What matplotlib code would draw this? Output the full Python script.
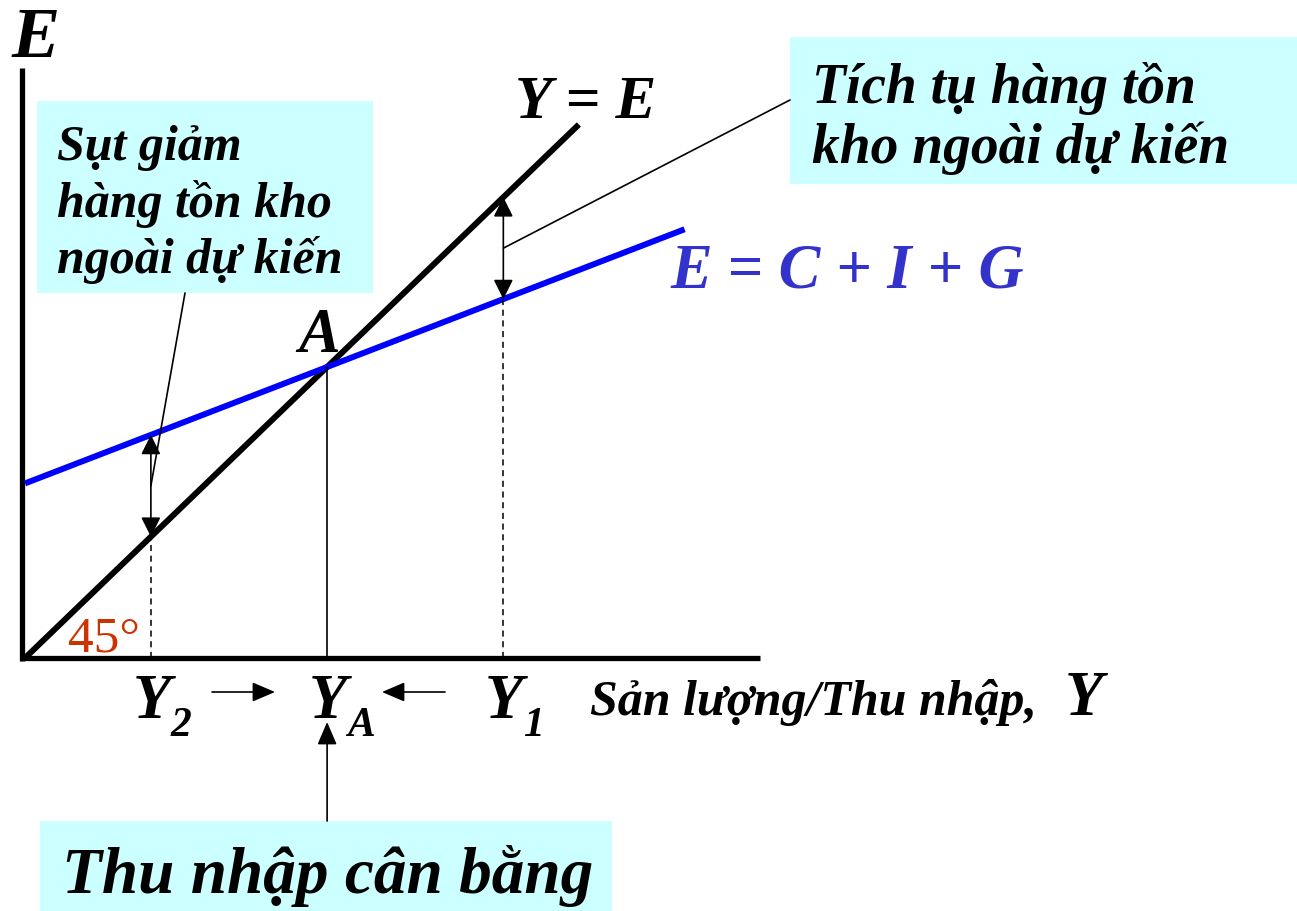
import matplotlib.pyplot as plt
import matplotlib.transforms as mtransforms
from matplotlib.patches import Rectangle
import numpy as np

W, H = 1297, 911

# Mô hình: E = C + I + G = a + b*Y, đường 45 độ Y = E
a = 18.0
b = 0.4
y_a = a / (1 - b)      # thu nhập cân bằng
y_2 = 12.5
y_1 = 47.5
y45_end = 55.0
ae_end = 65.5
x_axis_end = 73.0
y_axis_end = 60.8

kx, ky = 10.07, 9.7    # px / đơn vị
ox, oy = 25, 658       # gốc toạ độ (px)

serif = ['Liberation Serif', 'DejaVu Serif']
bi = dict(family=serif, weight='bold', style='italic')
box_color = '#CCFFFF'

fig = plt.figure(figsize=(W / 100, H / 100), dpi=100)
ax = fig.add_axes([0, 0, 1, 1])
ax.set_xlim(-ox / kx, (W - ox) / kx)
ax.set_ylim(-(H - oy) / ky, oy / ky)
ax.axis('off')

pix = mtransforms.Affine2D().scale(1 / W, -1 / H).translate(0, 1) + fig.transFigure
xpix = mtransforms.blended_transform_factory(ax.transData, pix)

# trục
ax.plot([-0.3, -0.3], [-0.3, y_axis_end], color='k', lw=3.8, solid_capstyle='butt')
ax.plot([-0.5, x_axis_end], [0, 0], color='k', lw=3.8, solid_capstyle='butt')

# đường 45 độ và đường tổng chi tiêu
Y = np.array([0, y45_end])
ax.plot(Y, Y, color='k', lw=4.3, solid_capstyle='butt')
Y = np.array([0, ae_end])
ax.plot(Y, a + b * Y, color='#0000FF', lw=4.3, solid_capstyle='butt')

# đường dóng
ax.plot([y_a, y_a], [0, y_a], color='k', lw=1.2)
ax.plot([y_2, y_2], [0, y_2], color='k', lw=1.1, ls=(0, (4, 3)))
ax.plot([y_1, y_1], [0, a + b * y_1], color='k', lw=1.1, ls=(0, (4, 3)))

# mũi tên hai đầu (chênh lệch hàng tồn kho)
dbl = dict(arrowstyle='<|-|>,head_length=0.6,head_width=0.3', color='k', lw=1.2,
           mutation_scale=20, shrinkA=0, shrinkB=0)
for yy in (y_2, y_1):
    ax.annotate('', xy=(yy, a + b * yy), xytext=(yy, yy), arrowprops=dbl)

# hộp chú thích
ax.add_patch(Rectangle((37, 101), 336, 192, transform=pix, facecolor=box_color,
                       edgecolor='none', zorder=0))
ax.add_patch(Rectangle((790, 37), 507, 147, transform=pix, facecolor=box_color,
                       edgecolor='none', zorder=0))
ax.add_patch(Rectangle((40, 821), 572, 90, transform=pix, facecolor=box_color,
                       edgecolor='none', zorder=0))

for i, line in enumerate(['Sụt giảm', 'hàng tồn kho', 'ngoài dự kiến']):
    ax.text(57, 160 + 56.5 * i, line, transform=pix, fontsize=36, va='baseline', **bi)
for i, line in enumerate(['Tích tụ hàng tồn', 'kho ngoài dự kiến']):
    ax.text(812, 103 + 60 * i, line, transform=pix, fontsize=40, va='baseline', **bi)
ax.text(62, 893, 'Thu nhập cân bằng', transform=pix, fontsize=47, va='baseline', **bi)

# đường dẫn chú thích
ax.annotate('', xy=(y_2, (y_2 + a + b * y_2) / 2), xytext=(185, 293), textcoords=pix,
            arrowprops=dict(arrowstyle='-', color='k', lw=1.2, shrinkA=0, shrinkB=0))
ax.annotate('', xy=(y_1, (y_1 + a + b * y_1) / 2), xytext=(790, 100), textcoords=pix,
            arrowprops=dict(arrowstyle='-', color='k', lw=1.2, shrinkA=0, shrinkB=0))
ax.annotate('', xy=(y_a, 722), xycoords=xpix, xytext=(y_a, 821), textcoords=xpix,
            arrowprops=dict(arrowstyle='-|>,head_length=0.7,head_width=0.3', color='k',
                            lw=1.2, mutation_scale=20, shrinkA=0, shrinkB=0))

# nhãn
ax.text(12, 57, 'E', transform=pix, fontsize=52, va='baseline', **bi)
ax.text(515, 118, 'Y = E', transform=pix, fontsize=44, va='baseline', **bi)
ax.text(670, 288, 'E = C + I + G', transform=pix, fontsize=45, va='baseline',
        color='#3333CC', **bi)
ax.text(298, 352, 'A', transform=pix, fontsize=45, va='baseline', **bi)
ax.text(68, 652, '45°', transform=pix, fontsize=37, va='baseline', family=serif,
        color='#CC3300')

for yy, sub in [(y_2, '2'), (y_a, 'A'), (y_1, '1')]:
    ax.text(yy + 0.1, 718, 'Y', transform=xpix, fontsize=45, va='baseline', ha='center', **bi)
    ax.text(yy + 2.0, 736, sub, transform=xpix, fontsize=30, va='baseline', ha='left', **bi)

harr = dict(arrowstyle='-|>,head_length=0.7,head_width=0.3', color='k', lw=1.2,
            mutation_scale=20, shrinkA=0, shrinkB=0)
ax.annotate('', xy=(275, 692), xycoords=pix, xytext=(212, 692), textcoords=pix, arrowprops=harr)
ax.annotate('', xy=(382, 692), xycoords=pix, xytext=(445, 692), textcoords=pix, arrowprops=harr)

ax.text(590, 715, 'Sản lượng/Thu nhập,', transform=pix, fontsize=36, va='baseline', **bi)
ax.text(1065, 715, 'Y', transform=pix, fontsize=45, va='baseline', **bi)

fig.savefig('out.png', dpi=100)
